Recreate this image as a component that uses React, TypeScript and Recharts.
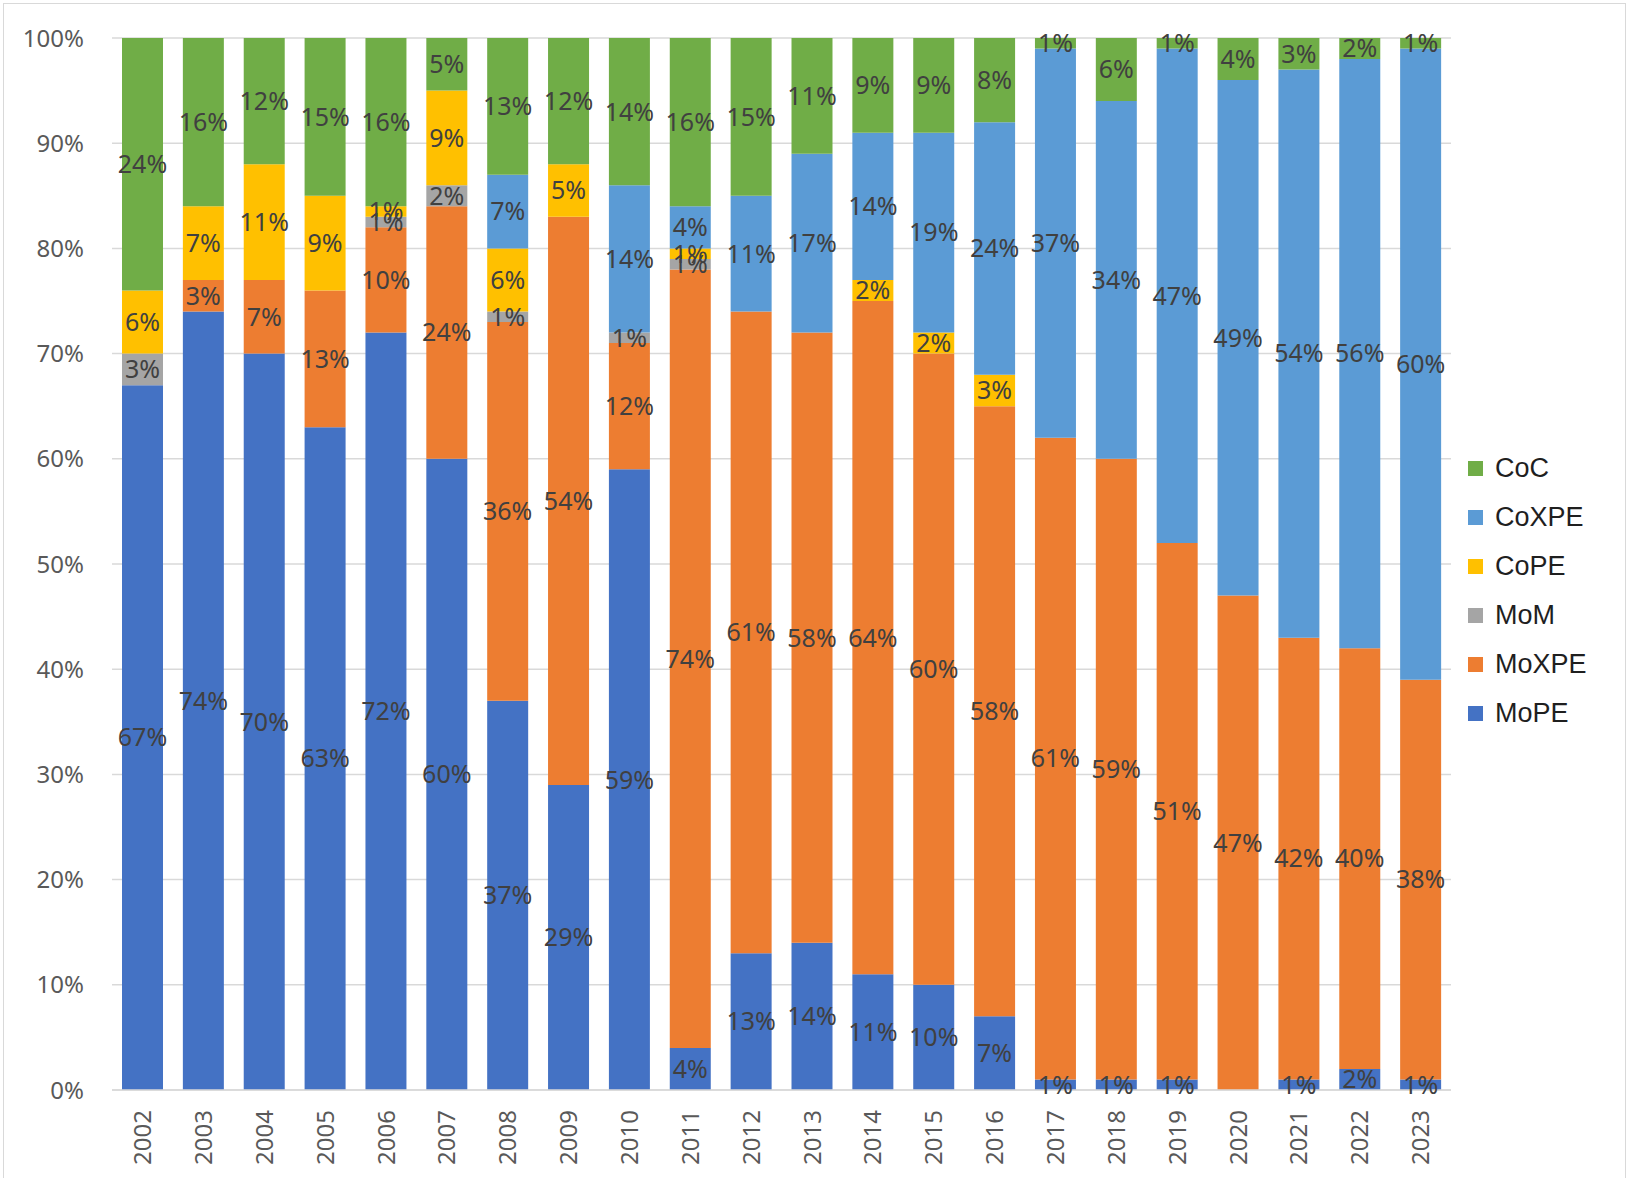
import React from 'react';
import { BarChart, Bar, XAxis, YAxis, CartesianGrid, Legend, LabelList } from 'recharts';

const years = ['2002','2003','2004','2005','2006','2007','2008','2009','2010','2011','2012','2013','2014','2015','2016','2017','2018','2019','2020','2021','2022','2023'];
const moPE  = [67, 74, 70, 63, 72, 60, 37, 29, 59, 4, 13, 14, 11, 10, 7, 1, 1, 1, 0, 1, 2, 1];
const moXPE = [0, 3, 7, 13, 10, 24, 36, 54, 12, 74, 61, 58, 64, 60, 58, 61, 59, 51, 47, 42, 40, 38];
const moM   = [3, 0, 0, 0, 1, 2, 1, 0, 1, 1, 0, 0, 0, 0, 0, 0, 0, 0, 0, 0, 0, 0];
const coPE  = [6, 7, 11, 9, 1, 9, 6, 5, 0, 1, 0, 0, 2, 2, 3, 0, 0, 0, 0, 0, 0, 0];
const coXPE = [0, 0, 0, 0, 0, 0, 7, 0, 14, 4, 11, 17, 14, 19, 24, 37, 34, 47, 49, 54, 56, 60];
const coC   = [24, 16, 12, 15, 16, 5, 13, 12, 14, 16, 15, 11, 9, 9, 8, 1, 6, 1, 4, 3, 2, 1];
const yTicks = [0, 10, 20, 30, 40, 50, 60, 70, 80, 90, 100];

const seriesDefs = [
  { key: 'MoPE', color: '#4472C4' },
  { key: 'MoXPE', color: '#ED7D31' },
  { key: 'MoM', color: '#A5A5A5' },
  { key: 'CoPE', color: '#FFC000' },
  { key: 'CoXPE', color: '#5B9BD5' },
  { key: 'CoC', color: '#70AD47' },
];

const data = years.map((y, i) => ({
  year: y,
  MoPE: moPE[i],
  MoXPE: moXPE[i],
  MoM: moM[i],
  CoPE: coPE[i],
  CoXPE: coXPE[i],
  CoC: coC[i],
}));

const FONT = '"Noto Sans", "Open Sans", sans-serif';
const LEGEND_FONT = '"Liberation Sans", Arial, sans-serif';

const XTick = (props: any) => {
  const { x, y, payload } = props;
  const ty = y + 20;
  return (
    <text
      x={x}
      y={ty}
      transform={`rotate(-90, ${x}, ${ty})`}
      textAnchor="end"
      dy="0.36em"
      fill="#595959"
      fontSize={24}
      fontFamily={FONT}
    >
      {payload.value}
    </text>
  );
};

const LegendContent = (props: any) => {
  const payload = props.payload || [];
  const order = [...seriesDefs].reverse();
  const items = order.map((s) => {
    const p = payload.find((it: any) => it.value === s.key || it.dataKey === s.key);
    return { value: s.key, color: p ? p.color : s.color };
  });
  return (
    <div style={{ fontFamily: LEGEND_FONT }}>
      {items.map((it: any) => (
        <div key={it.value} style={{ display: 'flex', alignItems: 'center', height: 49 }}>
          <div style={{ width: 15, height: 15, background: it.color, marginRight: 12 }} />
          <span style={{ fontSize: 27, color: '#1f1f1f' }}>{it.value}</span>
        </div>
      ))}
    </div>
  );
};

const fmt = (v: any) => (v > 0 ? `${v}%` : '');

export default function App() {
  return (
    <div style={{ position: 'absolute', left: 0, top: 0, width: 1632, height: 1178, background: '#fff', overflow: 'hidden' }}>
      <div style={{ position: 'absolute', left: 3, top: 3, width: 1623, height: 1200, border: '1.5px solid #D9D9D9', boxSizing: 'border-box' }} />
      <BarChart
        width={1632}
        height={1178}
        data={data}
        margin={{ top: 38, right: 181, bottom: 0, left: 0 }}
        style={{ fontFamily: FONT }}
      >
        <CartesianGrid vertical={false} stroke="#D9D9D9" strokeWidth={1.5} />
        <XAxis
          dataKey="year"
          height={88}
          tickLine={false}
          axisLine={{ stroke: '#D9D9D9', strokeWidth: 1.5 }}
          tickSize={0}
          tickMargin={0}
          interval={0}
          tick={<XTick />}
        />
        <YAxis
          width={112}
          domain={[0, 100]}
          ticks={yTicks}
          tickFormatter={(v: number) => `${v}%`}
          axisLine={false}
          tickLine={false}
          tickSize={0}
          tickMargin={28}
          tick={{ fill: '#595959', fontSize: 24, fontFamily: FONT }}
          allowDataOverflow
        />
        <Legend
          layout="vertical"
          align="center"
          verticalAlign="middle"
          content={<LegendContent />}
          wrapperStyle={{ left: 1468, top: 444, width: 160 }}
        />
        {seriesDefs.map((s) => (
          <Bar key={s.key} dataKey={s.key} stackId="a" fill={s.color} barSize={41} isAnimationActive={false}>
            <LabelList dataKey={s.key} position="center" formatter={fmt} fill="#404040" fontSize={25} fontFamily={FONT} />
          </Bar>
        ))}
      </BarChart>
    </div>
  );
}
